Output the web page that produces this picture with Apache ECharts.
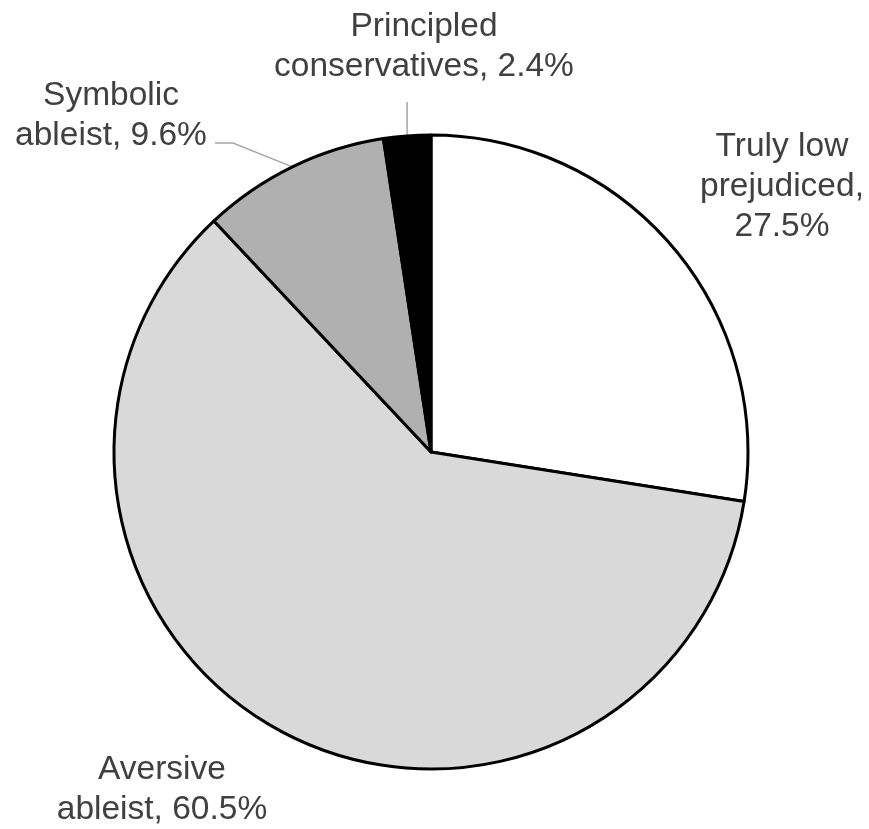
<!DOCTYPE html>
<html><head><meta charset="utf-8">
<script src="https://cdn.jsdelivr.net/npm/echarts@6/dist/echarts.min.js"></script>
<style>html,body{margin:0;padding:0;background:#fff}#c{width:869px;height:829px}</style>
</head><body><div id="c"></div>
<script>
const categories = ['Truly low\nprejudiced', 'Aversive\nableist', 'Symbolic\nableist', 'Principled\nconservatives'];
const values = [27.5, 60.5, 9.6, 2.4];
const separators = [',\n', ', ', ', ', ', '];
const colors = ['#ffffff', '#d9d9d9', '#b0b0b0', '#000000'];
// label anchor positions (text placement only)
const labelPos = [[782, 187], [162, 790], [111, 116], [424, 47]];
const showLine = [false, false, true, true];

const chart = echarts.init(document.getElementById('c'), null, {renderer: 'canvas'});
chart.setOption({
  animation: false,
  backgroundColor: '#fff',
  series: [{
    type: 'pie',
    center: [431, 452],
    radius: [0, 317],
    startAngle: 90,
    clockwise: true,
    avoidLabelOverlap: false,
    itemStyle: {borderColor: '#000', borderWidth: 3},
    label: {
      show: true,
      position: 'outside',
      formatter: p => p.name + separators[p.dataIndex] + p.value.toFixed(1) + '%',
      color: '#404040',
      fontFamily: 'Liberation Sans, Arial, sans-serif',
      fontSize: 33.5,
      lineHeight: 40,
      align: 'center'
    },
    labelLine: {show: true, lineStyle: {color: '#a6a6a6', width: 1.5}, length: 20, length2: 20},
    labelLayout: function (params) {
      const i = params.dataIndex;
      const [x, y] = labelPos[i];
      const out = {x: x, y: y, align: 'center', verticalAlign: 'middle'};
      const p0 = params.labelLinePoints ? params.labelLinePoints[0] : null;
      if (p0 && i === 2) {
        out.labelLinePoints = [[p0[0], p0[1]], [x + 122, y + 27], [x + 104, y + 27]];
      } else if (p0 && i === 3) {
        out.labelLinePoints = [[p0[0], p0[1]], [p0[0], y + 55], [p0[0], y + 55]];
      }
      return out;
    },
    data: categories.map((n, i) => ({
      name: n,
      value: values[i],
      itemStyle: {color: colors[i]},
      labelLine: {show: showLine[i]}
    }))
  }]
});
</script>
</body></html>
